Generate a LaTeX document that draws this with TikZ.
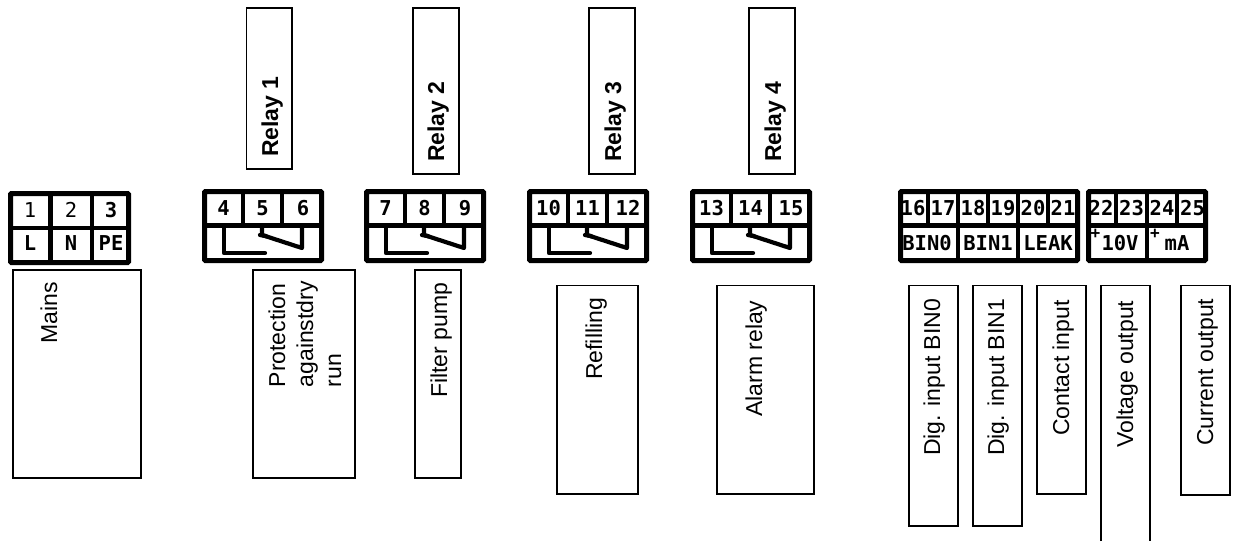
\documentclass[tikz,border=0pt]{standalone}
\usepackage{fontspec}
\setmainfont{Liberation Sans}
\newfontfamily\termfont{DejaVu Sans Mono}
\newcommand{\lblfont}{\fontsize{23}{28}\selectfont}
\newcommand{\trmfont}{\termfont\bfseries\fontsize{20.5}{22}\selectfont}
\newcommand{\trmthin}{\termfont\fontsize{20.5}{22}\selectfont}
\newcommand{\trmplus}{\termfont\bfseries\fontsize{16}{18}\selectfont}
\tikzset{
  boxline/.style={draw=black,line width=1.3pt},
  frameline/.style={draw=black,line width=5pt,rounded corners=1pt},
  sepline/.style={draw=black,line width=4.6pt},
  contact/.style={draw=black,line width=4.2pt,line cap=round,line join=round},
  lbl/.style={font=\lblfont,rotate=90,anchor=base west,inner sep=0pt},
  lblb/.style={font=\lblfont\bfseries,rotate=90,anchor=base west,inner sep=0pt},
  trm/.style={font=\trmfont,anchor=base,inner sep=0pt},
  trmt/.style={font=\trmthin,anchor=base,inner sep=0pt},
  trmp/.style={font=\trmplus,anchor=base,inner sep=0pt},
}
% #1 left edge, #2 #3 #4 the terminal numbers, #5 name prefix
\newcommand{\relayblock}[5]{%
  \draw[frameline] (#1+2.5,191.5) rectangle (#1+119.5,260.5);
  \draw[sepline] (#1,225.5) -- (#1+122,225.5);
  \draw[sepline] (#1+41,190) -- (#1+41,225.5);
  \draw[sepline] (#1+80,190) -- (#1+80,225.5);
  \draw[contact] (#1+22,228) -- (#1+22,253) -- (#1+63,253);
  \draw[contact] (#1+60,228) -- (#1+60,235) -- (#1+100,248) -- (#1+100,228);
  \draw[contact] (#1+58,235) -- (#1+64,236);
  \node[trm] (#5a) at (#1+21.5,215) {#2};
  \node[trm] (#5b) at (#1+60.5,215) {#3};
  \node[trm] (#5c) at (#1+101,215) {#4};
}
\begin{document}
\begin{tikzpicture}[x=1pt,y=-1pt]
\useasboundingbox (0,0) rectangle (1234,541);
\fill[white] (0,0) rectangle (1234,541);

% relay boxes
\draw[boxline] (246.5,8) rectangle (292,169);
\draw[boxline] (413,8) rectangle (459,174);
\draw[boxline] (589,8) rectangle (635,174);
\draw[boxline] (749,8) rectangle (795,174);
\node[lblb] (r1) at (278,157) {Relay 1};
\node[lblb] (r2) at (444,162) {Relay 2};
\node[lblb] (r3) at (621,162) {Relay 3};
\node[lblb] (r4) at (781,162) {Relay 4};

% mains terminal
\draw[frameline] (10.5,193.5) rectangle (128.5,262.5);
\draw[sepline] (8,228) -- (131,228);
\draw[sepline] (50.5,192) -- (50.5,264);
\draw[sepline] (92,192) -- (92,264);
\node[trmt] (m1) at (30,217) {1};
\node[trmt] (m2) at (71,217) {2};
\node[trm] (m3) at (111,217) {3};
\node[trm] (mL) at (30,250) {L};
\node[trm] (mN) at (71,250) {N};
\node[trm] (mP) at (111,250) {PE};

% relay terminals
\relayblock{202}{4}{5}{6}{ba}
\relayblock{364}{7}{8}{9}{bb}
\relayblock{527}{10}{11}{12}{bc}
\relayblock{690}{13}{14}{15}{bd}

% digital terminals
\draw[frameline] (900.5,191.5) rectangle (1077.5,260.5);
\draw[sepline] (898,225.5) -- (1080,225.5);
\foreach \xx in {928,988,1048} \draw[sepline] (\xx,190) -- (\xx,225.5);
\foreach \xx in {958,1018} \draw[sepline] (\xx,190) -- (\xx,262);
\draw[frameline] (1088.5,191.5) rectangle (1205.5,260.5);
\draw[sepline] (1086,225.5) -- (1208,225.5);
\foreach \xx in {1116,1177} \draw[sepline] (\xx,190) -- (\xx,225.5);
\draw[sepline] (1147,190) -- (1147,262);
\node[trm] (d16) at (913,215) {16};
\node[trm] (d17) at (943,215) {17};
\node[trm] (d18) at (973,215) {18};
\node[trm] (d19) at (1003,215) {19};
\node[trm] (d20) at (1033,215) {20};
\node[trm] (d21) at (1063,215) {21};
\node[trm] (d22) at (1101,215) {22};
\node[trm] (d23) at (1131.5,215) {23};
\node[trm] (d24) at (1162,215) {24};
\node[trm] (d25) at (1192.5,215) {25};
\node[trm] (bin0) at (927,250) {BIN0};
\node[trm] (bin1) at (988,250) {BIN1};
\node[trm] (leak) at (1048,250) {LEAK};
\node[trmp] (plusa) at (1095.5,238) {+};
\node[trm] (volt) at (1120,250) {10V};
\node[trmp] (plusb) at (1155,238) {+};
\node[trm] (ma) at (1177,250) {mA};

% function boxes
\draw[boxline] (13,270) rectangle (141,478);
\draw[boxline] (253,270) rectangle (355,478);
\draw[boxline] (415,270) rectangle (461,478);
\draw[boxline] (557,285.5) rectangle (638,494);
\draw[boxline] (717,285.5) rectangle (814,494);
\draw[boxline] (909,285.5) rectangle (958,526);
\draw[boxline] (973,285.5) rectangle (1022,526);
\draw[boxline] (1037,285.5) rectangle (1086,494);
\draw[boxline] (1101,541) -- (1101,285.5) -- (1150,285.5) -- (1150,541);
\draw[boxline] (1181,285.5) rectangle (1230,495);

\node[lbl] (mains) at (57,344) {Mains};
\node[font=\lblfont,rotate=90,anchor=west,align=left,inner sep=0pt] (prot) at (305,387.5) {Protection\\againstdry\\run};
\node[lbl] (filt) at (447,398) {Filter pump};
\node[lbl] (refi) at (602,380) {Refilling};
\node[lbl] (alrm) at (762,417) {Alarm relay};
\node[lbl] (dg0) at (940,456) {Dig. input BIN0};
\node[lbl] (dg1) at (1004,456) {Dig. input BIN1};
\node[lbl] (cont) at (1069,436) {Contact input};
\node[lbl] (volto) at (1133,448) {Voltage output};
\node[lbl] (curr) at (1213,446) {Current output};
\end{tikzpicture}
\end{document}
